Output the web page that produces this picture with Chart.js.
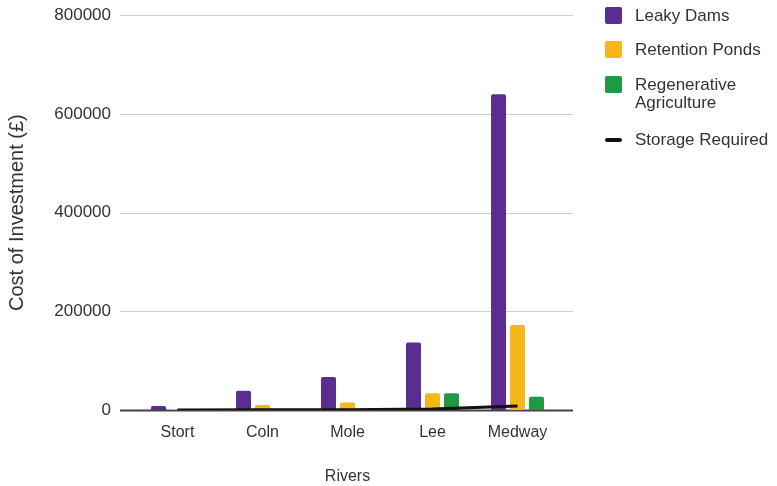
<!DOCTYPE html>
<html>
<head>
<meta charset="utf-8">
<script src="https://cdn.jsdelivr.net/npm/chart.js@4"></script>
<style>
  body { margin: 0; background: #fff; overflow: hidden; }
  #wrap { position: relative; width: 777px; height: 486px; overflow: hidden; }
  #chart { position: absolute; left: 0; top: -11px; }
  #legend { position: absolute; left: 605px; top: 0; font: 17px "Liberation Sans", Arial, sans-serif; color: #333; }
  .item { position: absolute; left: 0; display: flex; align-items: flex-start; }
  .mark { width: 17px; height: 17px; border-radius: 2px; margin-right: 13px; flex: none; }
  .text { width: 150px; line-height: 18px; }
</style>
</head>
<body>
<div id="wrap">
  <canvas id="chart" width="777" height="497"></canvas>
  <div id="legend"></div>
</div>
<script>
// values
const rivers = ['Stort', 'Coln', 'Mole', 'Lee', 'Medway'];
const leakyDams = [8000, 39000, 67000, 137000, 640000];
const retentionPonds = [2000, 10000, 15000, 34000, 172000];
const regenAgriculture = [0, 0, 0, 34000, 27000];
const storageRequired = [0, 300, 700, 2000, 8000];
const yTicks = [0, 200000, 400000, 600000, 800000];

const font = '"Liberation Sans", Arial, sans-serif';
const ink = '#333';

// y gridlines run a bit past the plot on both sides, zero line darker
const gridPlugin = {
  id: 'grid',
  beforeDatasetsDraw(chart) {
    const ctx = chart.ctx;
    const area = chart.chartArea;
    const y = chart.scales.y;
    ctx.save();
    yTicks.forEach((v) => {
      const py = Math.round(y.getPixelForValue(v)) + 0.5;
      ctx.beginPath();
      if (v == 0) {
        ctx.strokeStyle = '#444';
        ctx.lineWidth = 2;
      } else {
        ctx.strokeStyle = '#cfcfcf';
        ctx.lineWidth = 1;
      }
      ctx.moveTo(area.left - 15, py);
      ctx.lineTo(area.right + 13, py);
      ctx.stroke();
    });
    ctx.restore();
  }
};

const chart = new Chart(document.getElementById('chart'), {
  type: 'bar',
  data: {
    labels: rivers,
    datasets: [
      {label: 'Leaky Dams', data: leakyDams, backgroundColor: '#5b2d91', borderRadius: 2, order: 1},
      {label: 'Retention Ponds', data: retentionPonds, backgroundColor: '#f5b719', borderRadius: 2, order: 1},
      {label: 'Regenerative Agriculture', data: regenAgriculture, backgroundColor: '#1f9a42', borderRadius: 2, order: 1},
      {label: 'Storage Required', data: storageRequired, type: 'line', borderColor: '#111', backgroundColor: '#111', borderWidth: 3, pointRadius: 0, tension: 0, order: 0}
    ]
  },
  options: {
    responsive: false,
    animation: false,
    layout: {padding: {top: -11, right: 217, bottom: 0, left: 0}},
    datasets: {bar: {categoryPercentage: 0.67, barPercentage: 0.79}},
    plugins: {legend: {display: false}, tooltip: {enabled: false}},
    scales: {
      x: {
        grid: {display: false},
        border: {display: false},
        ticks: {color: ink, font: {family: font, size: 16}, padding: 5},
        title: {display: true, text: 'Rivers', color: ink, font: {family: font, size: 16}, padding: {top: 4, bottom: 0}},
        afterFit: (s) => { s.height = 76; }
      },
      y: {
        min: 0,
        max: 800000,
        afterBuildTicks: (s) => { s.ticks = yTicks.map((v) => ({value: v})); },
        grid: {display: false},
        border: {display: false},
        ticks: {color: ink, font: {family: font, size: 17}, padding: 16, callback: (v) => String(v)},
        title: {display: true, text: 'Cost of Investment (£)', color: ink, font: {family: font, size: 20}, padding: {top: 5, bottom: 0}},
        afterFit: (s) => { s.width = 135; }
      }
    }
  },
  plugins: [gridPlugin]
});

// html legend built from the datasets
const tops = [7, 41, 76, 131];
const legend = document.getElementById('legend');
chart.data.datasets.forEach((d, i) => {
  const item = document.createElement('div');
  item.className = 'item';
  item.style.top = tops[i] + 'px';
  const mark = document.createElement('div');
  mark.className = 'mark';
  if (d.type == 'line') {
    mark.style.height = '4px';
    mark.style.marginTop = '7px';
    mark.style.background = d.borderColor;
  } else {
    mark.style.background = d.backgroundColor;
  }
  const text = document.createElement('div');
  text.className = 'text';
  text.textContent = d.label;
  item.appendChild(mark);
  item.appendChild(text);
  legend.appendChild(item);
});
</script>
</body>
</html>
